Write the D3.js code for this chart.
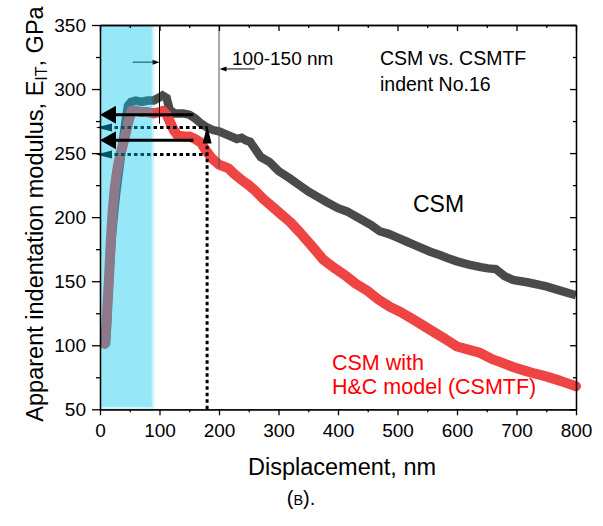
<!DOCTYPE html>
<html>
<head>
<meta charset="utf-8">
<script src="https://cdn.jsdelivr.net/npm/d3@7"></script>
<style>
    body { margin: 0; background: #fff; }
    svg { display: block; }
    text { font-family: "Liberation Sans", Arial, sans-serif; }
</style>
</head>
<body>
<div id="chart"></div>
<script>
// CSM (grey, square markers) - displacement nm / modulus GPa
var csmDepth = [10, 12, 14, 17, 20, 24, 28, 33, 38, 43, 47, 52, 60, 70, 80, 90, 98, 105, 112, 117,
    125, 140, 150, 160, 170, 180, 190, 200, 210, 220, 230, 238, 245, 252, 258, 270, 285, 300, 320, 335,
    350, 365, 380, 400, 415, 440, 455, 470, 485, 500, 515, 530, 555, 571, 585, 600, 620, 640, 652, 665,
    680, 694, 720, 750, 775, 800];
var csmModulus = [100, 118, 140, 165, 185, 205, 222, 240, 258, 275, 287, 290, 291, 290, 291, 291, 293, 295, 293, 284,
    281, 281, 280, 277, 273, 270, 268, 267, 265, 263, 261, 262, 260, 259, 255, 247, 243, 236, 230, 225,
    220, 216, 212, 207, 204.5, 198, 194, 189, 187, 184, 181, 178, 173, 170.5, 168, 165.5, 163, 161, 160, 159.5,
    154, 151, 149, 146, 142.5, 139];

// CSMTF (red, round markers)
var tfDepth = [8, 10, 11, 13, 15, 18, 21, 25, 30, 36, 42, 48, 53, 60, 70, 80, 90, 100, 106, 112,
    118, 124, 130, 140, 150, 160, 170, 178, 188, 200, 216, 225, 238, 250, 260, 275, 290, 305, 320,
    336, 355, 375, 395, 415, 430, 448, 467, 487, 505, 527, 555, 580, 600, 616, 639, 660, 672, 694, 715,
    730, 751, 775, 800];
var tfModulus = [101, 110, 117, 135, 151, 180, 203, 224, 240, 252, 263, 275, 283, 283, 282, 282, 281, 282, 283, 280,
    274, 268, 264, 263, 263, 261, 258, 252, 246, 241, 238, 234, 229, 225, 221, 214, 208, 202, 196,
    188, 178, 167, 160, 153.5, 148, 143, 136, 130, 126, 120, 112, 105, 99, 97, 94, 89, 87, 83, 80,
    78, 75.5, 72, 68];

var xMajor = [0, 100, 200, 300, 400, 500, 600, 700, 800];
var xMinor = [50, 150, 250, 350, 450, 550, 650, 750];
var yMajor = [50, 100, 150, 200, 250, 300, 350];
var yMinor = [75, 125, 175, 225, 275, 325];

var bandDepth = [0, 87];          // shaded region
var rangeLines = [100, 200];      // thin vertical markers
var rangeLineEnds = [273, 238];
var solidLevels = [280, 260];     // thick arrows
var dottedLevels = [270, 249];    // dotted arrows
var dottedDepth = 180;

(function () {
    const width = 603, height = 526;
    const left = 100, right = 576, top = 25, bottom = 409.3;

    var x = d3.scaleLinear().domain([0, 800]).range([left, right]);
    var y = d3.scaleLinear().domain([50, 350]).range([bottom, top]);

    var svg = d3.select('#chart').append('svg')
        .attr('width', width)
        .attr('height', height);

    var line = d3.line().x(d => x(d[0])).y(d => y(d[1]));

    // data curves
    svg.append('path')
        .datum(d3.zip(csmDepth, csmModulus))
        .attr('d', line)
        .attr('fill', 'none')
        .attr('stroke', '#4a4a4a')
        .attr('stroke-width', 8.5)
        .attr('stroke-linejoin', 'miter');

    svg.append('path')
        .datum(d3.zip(tfDepth, tfModulus))
        .attr('d', line)
        .attr('fill', 'none')
        .attr('stroke', '#ef4444')
        .attr('stroke-width', 10)
        .attr('stroke-linejoin', 'round')
        .attr('stroke-linecap', 'round');

    // dotted arrows (below the shading)
    var under = svg.append('g');
    dottedLevels.forEach(function (v) {
        under.append('line')
            .attr('x1', x(0) + 8).attr('x2', x(dottedDepth))
            .attr('y1', y(v)).attr('y2', y(v))
            .attr('stroke', '#000')
            .attr('stroke-width', 3)
            .attr('stroke-dasharray', '3.5,3');
        under.append('path')
            .attr('d', `M${x(0) - 4},${y(v)} L${x(0) + 12},${y(v) - 4} L${x(0) + 12},${y(v) + 4} Z`)
            .attr('fill', '#000');
    });
    under.append('line')
        .attr('x1', x(dottedDepth)).attr('x2', x(dottedDepth))
        .attr('y1', y(50)).attr('y2', y(dottedLevels[0]) + 16)
        .attr('stroke', '#000')
        .attr('stroke-width', 3)
        .attr('stroke-dasharray', '3.5,3');
    under.append('path')
        .attr('d', `M${x(dottedDepth)},${y(dottedLevels[0]) - 2} L${x(dottedDepth) - 4.5},${y(dottedLevels[0]) + 16} L${x(dottedDepth) + 4.5},${y(dottedLevels[0]) + 16} Z`)
        .attr('fill', '#000');

    // thin range arrows
    under.append('line')
        .attr('x1', x(55)).attr('x2', x(rangeLines[0]) - 5)
        .attr('y1', y(321)).attr('y2', y(321))
        .attr('stroke', '#000').attr('stroke-width', 1);
    under.append('path')
        .attr('d', `M${x(rangeLines[0])},${y(321)} L${x(rangeLines[0]) - 7},${y(321) - 2.5} L${x(rangeLines[0]) - 7},${y(321) + 2.5} Z`)
        .attr('fill', '#000');
    under.append('line')
        .attr('x1', x(260)).attr('x2', x(rangeLines[1]) + 5)
        .attr('y1', y(315.7)).attr('y2', y(315.7))
        .attr('stroke', '#000').attr('stroke-width', 1);
    under.append('path')
        .attr('d', `M${x(rangeLines[1]) + 0.5},${y(315.7)} L${x(rangeLines[1]) + 7.5},${y(315.7) - 2.5} L${x(rangeLines[1]) + 7.5},${y(315.7) + 2.5} Z`)
        .attr('fill', '#000');

    rangeLines.forEach(function (d, i) {
        under.append('line')
            .attr('x1', x(d)).attr('x2', x(d))
            .attr('y1', y(350)).attr('y2', y(rangeLineEnds[i]))
            .attr('stroke', i == 0 ? '#000' : '#555')
            .attr('stroke-width', 1);
    });

    // shaded band
    svg.append('rect')
        .attr('x', x(bandDepth[0]))
        .attr('y', y(350))
        .attr('width', x(bandDepth[1]) - x(bandDepth[0]) + 2.5)
        .attr('height', y(50) - y(350))
        .attr('fill', 'rgb(0,199,238)')
        .attr('opacity', 0.2);
    svg.append('rect')
        .attr('x', x(bandDepth[0]))
        .attr('y', y(350))
        .attr('width', x(bandDepth[1]) - x(bandDepth[0]))
        .attr('height', y(50) - y(350) - 2.5)
        .attr('fill', 'rgb(0,199,238)')
        .attr('opacity', 0.2625);

    // thick arrows (above the shading)
    solidLevels.forEach(function (v) {
        svg.append('line')
            .attr('x1', x(157)).attr('x2', x(0) + 12)
            .attr('y1', y(v)).attr('y2', y(v))
            .attr('stroke', '#000')
            .attr('stroke-width', 3);
        svg.append('path')
            .attr('d', `M${x(0)},${y(v)} L${x(0) + 16},${y(v) - 9} L${x(0) + 16},${y(v) + 9} Z`)
            .attr('fill', '#000');
    });

    // axes
    function styleAxis(g) {
        g.selectAll('path, line').attr('stroke', '#000').attr('stroke-width', 1.3);
        g.selectAll('text').attr('font-size', 19).attr('fill', '#000')
            .attr('font-family', '"Liberation Sans", Arial, sans-serif');
    }

    svg.append('g').attr('transform', `translate(0,${bottom})`)
        .call(d3.axisBottom(x).tickValues(xMajor).tickSizeInner(6).tickSizeOuter(0).tickPadding(8))
        .call(styleAxis);
    svg.append('g').attr('transform', `translate(0,${bottom})`)
        .call(d3.axisBottom(x).tickValues(xMinor).tickSizeInner(3).tickSizeOuter(0).tickFormat(''))
        .call(styleAxis);
    svg.append('g').attr('transform', `translate(0,${top})`)
        .call(d3.axisTop(x).tickValues(xMajor).tickSizeInner(-6).tickSizeOuter(0).tickFormat(''))
        .call(styleAxis);
    svg.append('g').attr('transform', `translate(0,${top})`)
        .call(d3.axisTop(x).tickValues(xMinor).tickSizeInner(-3).tickSizeOuter(0).tickFormat(''))
        .call(styleAxis);

    svg.append('g').attr('transform', `translate(${left},0)`)
        .call(d3.axisLeft(y).tickValues(yMajor).tickSizeInner(8).tickSizeOuter(0).tickPadding(6))
        .call(styleAxis);
    svg.append('g').attr('transform', `translate(${left},0)`)
        .call(d3.axisLeft(y).tickValues(yMinor).tickSizeInner(4).tickSizeOuter(0).tickFormat(''))
        .call(styleAxis);
    svg.append('g').attr('transform', `translate(${right},0)`)
        .call(d3.axisRight(y).tickValues(yMajor).tickSizeInner(-6).tickSizeOuter(0).tickFormat(''))
        .call(styleAxis);
    svg.append('g').attr('transform', `translate(${right},0)`)
        .call(d3.axisRight(y).tickValues(yMinor).tickSizeInner(-3).tickSizeOuter(0).tickFormat(''))
        .call(styleAxis);

    // axis titles
    svg.append('text')
        .attr('x', 342).attr('y', 475)
        .attr('text-anchor', 'middle')
        .attr('font-size', 23.5)
        .text('Displacement, nm');

    var yt = svg.append('text')
        .attr('transform', 'translate(43,214) rotate(-90)')
        .attr('text-anchor', 'middle')
        .attr('font-size', 23.5);
    yt.append('tspan').text('Apparent indentation modulus, E');
    yt.append('tspan').attr('font-size', 16).attr('dy', 4).text('IT');
    yt.append('tspan').attr('dy', -4).text(', GPa');

    // annotations
    svg.append('text').attr('x', 232).attr('y', 65).attr('font-size', 19).text('100-150 nm');
    svg.append('text').attr('x', 380).attr('y', 65).attr('font-size', 19.5).text('CSM vs. CSMTF');
    svg.append('text').attr('x', 380).attr('y', 91).attr('font-size', 19.5).text('indent No.16');
    svg.append('text').attr('x', 413).attr('y', 212).attr('font-size', 23).text('CSM');
    svg.append('text').attr('x', 332).attr('y', 370).attr('font-size', 21.5).attr('fill', '#ff0000').text('CSM with');
    svg.append('text').attr('x', 332).attr('y', 394).attr('font-size', 21.5).attr('fill', '#ff0000').text('H&C model (CSMTF)');

    // caption
    var cap = svg.append('text')
        .attr('x', 301).attr('y', 505)
        .attr('text-anchor', 'middle')
        .attr('font-family', '"Liberation Serif", "DejaVu Serif", serif')
        .attr('font-size', 20);
    cap.append('tspan').text('(');
    cap.append('tspan').attr('font-size', 14.5).text('B');
    cap.append('tspan').text(').');
})();
</script>
</body>
</html>
